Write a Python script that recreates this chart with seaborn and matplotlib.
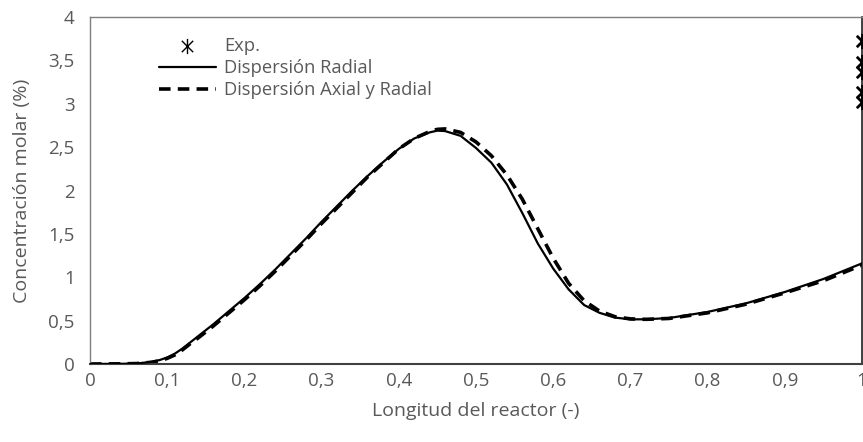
import matplotlib
matplotlib.use("Agg")
import matplotlib.pyplot as plt
from matplotlib.path import Path
import seaborn as sns
import pandas as pd

# ---- data ----
x_pos = [0.00, 0.04, 0.06, 0.08, 0.09, 0.10, 0.11, 0.12, 0.13, 0.14, 0.16, 0.18, 0.20,
         0.22, 0.24, 0.26, 0.28, 0.30, 0.32, 0.34, 0.36, 0.38, 0.40, 0.42, 0.44, 0.45,
         0.46, 0.48, 0.50, 0.52, 0.54, 0.56, 0.58, 0.60, 0.62, 0.64, 0.66, 0.68, 0.70,
         0.72, 0.75, 0.80, 0.85, 0.90, 0.95, 1.00]
y_radial = [0, 0.002, 0.006, 0.025, 0.045, 0.075, 0.12, 0.18, 0.25, 0.32, 0.46, 0.61, 0.76,
            0.92, 1.09, 1.27, 1.45, 1.64, 1.82, 2.00, 2.17, 2.33, 2.48, 2.60, 2.67, 2.69,
            2.685, 2.63, 2.49, 2.32, 2.07, 1.74, 1.39, 1.10, 0.86, 0.68, 0.59, 0.535, 0.515,
            0.515, 0.53, 0.60, 0.70, 0.83, 0.98, 1.16]
y_axial_radial = [0, 0.002, 0.005, 0.02, 0.038, 0.065, 0.105, 0.165, 0.235, 0.30, 0.44, 0.59,
                  0.74, 0.90, 1.07, 1.25, 1.43, 1.62, 1.80, 1.98, 2.16, 2.32, 2.48, 2.60,
                  2.68, 2.705, 2.71, 2.67, 2.56, 2.40, 2.18, 1.90, 1.56, 1.22, 0.93, 0.73,
                  0.61, 0.545, 0.52, 0.515, 0.525, 0.59, 0.69, 0.82, 0.96, 1.14]
x_exp = [1.0, 1.0, 1.0, 1.0, 1.0]
y_exp = [3.72, 3.48, 3.37, 3.14, 3.02]

x_ticks = [0, 0.1, 0.2, 0.3, 0.4, 0.5, 0.6, 0.7, 0.8, 0.9, 1.0]
x_tick_labels = ["0", "0,1", "0,2", "0,3", "0,4", "0,5", "0,6", "0,7", "0,8", "0,9", "1"]
y_ticks = [0, 0.5, 1, 1.5, 2, 2.5, 3, 3.5, 4]
y_tick_labels = ["0", "0,5", "1", "1,5", "2", "2,5", "3", "3,5", "4"]

label_exp = "Exp."
label_radial = "Dispersión Radial"
label_axial = "Dispersión Axial y Radial"
x_label = "Longitud del reactor (-)"
y_label = "Concentración molar (%)"

# ---- style ----
sns.set_theme(style="white")
plt.rcParams["font.family"] = ["Open Sans", "DejaVu Sans"]
text_color = "#595959"

star = Path([(0, -1), (0, 1), (-0.75, -0.75), (0.75, 0.75), (-0.75, 0.75), (0.75, -0.75)],
            [Path.MOVETO, Path.LINETO, Path.MOVETO, Path.LINETO, Path.MOVETO, Path.LINETO])

fig = plt.figure(figsize=(8.63, 4.42), dpi=100)
ax = fig.add_axes([90 / 863, 1 - 364 / 442, 772 / 863, (364 - 17) / 442])

df_r = pd.DataFrame({"x": x_pos, "y": y_radial})
df_a = pd.DataFrame({"x": x_pos, "y": y_axial_radial})
df_e = pd.DataFrame({"x": x_exp, "y": y_exp})

sns.scatterplot(data=df_e, x="x", y="y", ax=ax, marker=star, s=120,
                color="black", edgecolor="black", linewidth=2.0, label=label_exp, zorder=4)
sns.lineplot(data=df_r, x="x", y="y", ax=ax, color="black", linewidth=1.6,
             label=label_radial, zorder=3)
sns.lineplot(data=df_a, x="x", y="y", ax=ax, color="black", linewidth=2.6,
             linestyle=(0, (3.2, 2.0)), label=label_axial, zorder=2)

ax.set_xlim(0, 1)
ax.set_ylim(0, 4)
ax.set_xticks(x_ticks)
ax.set_xticklabels(x_tick_labels)
ax.set_yticks(y_ticks)
ax.set_yticklabels(y_tick_labels)
ax.tick_params(axis="both", length=0, labelsize=13.5, colors=text_color)
ax.tick_params(axis="x", pad=6)
ax.tick_params(axis="y", pad=11)
ax.set_xlabel(x_label, fontsize=14, color=text_color)
ax.set_ylabel(y_label, fontsize=14, color=text_color)
ax.xaxis.set_label_coords(0.5, (364 - 402) / 347)
ax.yaxis.set_label_coords((31 - 90) / 772, 0.5)

for side in ["left", "top"]:
    ax.spines[side].set_color("#7f7f7f")
    ax.spines[side].set_linewidth(1.0)
ax.spines["bottom"].set_color("#404040")
ax.spines["bottom"].set_linewidth(1.5)
ax.spines["right"].set_color("#202020")
ax.spines["right"].set_linewidth(1.2)

leg = ax.legend(loc="upper left", bbox_to_anchor=((159 - 90) / 772, (364 - 37) / 347),
                frameon=False, fontsize=13.2, handlelength=3.1, handletextpad=0.45,
                labelspacing=0.22, borderaxespad=0, borderpad=0)
for t in leg.get_texts():
    t.set_color(text_color)
leg.legend_handles[0].set_linewidth(1.0)

fig.savefig("out.png", dpi=100)
